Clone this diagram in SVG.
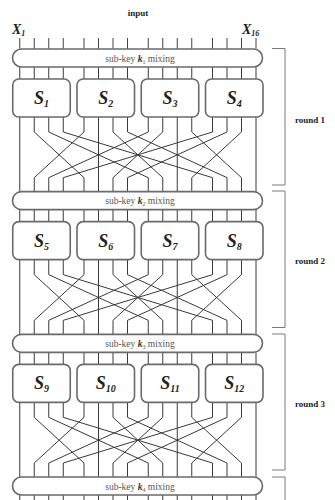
<svg xmlns="http://www.w3.org/2000/svg" xmlns:xlink="http://www.w3.org/1999/xlink" width="335" height="500" viewBox="0 0 335 500">
<style>
.wire{fill:none;stroke:#3a3a3a;stroke-width:1}
.box{fill:#fff;stroke:#6a6a6a;stroke-width:1.6}
.br{fill:none;stroke:#7a7a7a;stroke-width:1}
.lbl{font-family:"Liberation Serif",serif;font-size:9px;font-weight:bold;fill:#222}
.sk{font-family:"Liberation Serif",serif;font-size:9.5px;fill:#555;text-anchor:middle}
.sl{font-family:"Liberation Serif",serif;font-size:18px;font-weight:bold;font-style:italic;fill:#222;text-anchor:middle}
.xl{font-family:"Liberation Serif",serif;font-size:14px;font-weight:bold;font-style:italic;fill:#222}
</style>
<defs>
<path id="ticks" class="wire" d="M19.75 0v12M34.25 0v12M48.75 0v12M63.25 0v12M84 0v12M98.5 0v12M113 0v12M127.5 0v12M148.25 0v12M162.75 0v12M177.25 0v12M191.75 0v12M212.5 0v12M227 0v12M241.5 0v12M256 0v12"/>
<g id="perm" class="wire">
<path d="M19.75 0V74.67M98.5 0V74.67M177.25 0V74.67M256 0V74.67"/>
<path d="M34.25 0V15L84 60.67V74.67"/>
<path d="M48.75 0V15L148.25 60.67V74.67"/>
<path d="M63.25 0V15L212.5 60.67V74.67"/>
<path d="M84 0V15L34.25 60.67V74.67"/>
<path d="M113 0V15L162.75 60.67V74.67"/>
<path d="M127.5 0V15L227 60.67V74.67"/>
<path d="M148.25 0V15L48.75 60.67V74.67"/>
<path d="M162.75 0V15L113 60.67V74.67"/>
<path d="M191.75 0V15L241.5 60.67V74.67"/>
<path d="M212.5 0V15L63.25 60.67V74.67"/>
<path d="M227 0V15L127.5 60.67V74.67"/>
<path d="M241.5 0V15L191.75 60.67V74.67"/>
</g>
</defs>
<rect width="335" height="500" fill="#fff"/>
<g id="connectors">
<use xlink:href="#ticks" transform="translate(0,38) scale(1,0.9)"/>
<use xlink:href="#ticks" transform="translate(0,67)"/>
<use xlink:href="#ticks" transform="translate(0,209.67)"/>
<use xlink:href="#ticks" transform="translate(0,352.33)"/>
<use xlink:href="#ticks" transform="translate(0,495)"/>
<use xlink:href="#perm" transform="translate(0,117)"/>
<use xlink:href="#perm" transform="translate(0,259.67)"/>
<use xlink:href="#perm" transform="translate(0,402.33)"/>
</g>
<g id="labels">
<text class="lbl" x="138" y="16" text-anchor="middle">input</text>
<text class="xl" x="12" y="34">X<tspan font-size="8" dy="2">1</tspan></text>
<text class="xl" x="242" y="34">X<tspan font-size="8" dy="2">16</tspan></text>
</g>
<g id="subkey1"><rect class="box" x="12.5" y="49" width="250" height="18" rx="9"/><text class="sk" x="140" y="61.5">sub-key <tspan font-weight="bold" font-style="italic" fill="#333">k</tspan><tspan font-size="6" dy="2">1</tspan><tspan dy="-2"> mixing</tspan></text></g>
<g id="subkey2"><rect class="box" x="12.5" y="191.67" width="250" height="18" rx="9"/><text class="sk" x="140" y="204.2">sub-key <tspan font-weight="bold" font-style="italic" fill="#333">k</tspan><tspan font-size="6" dy="2">2</tspan><tspan dy="-2"> mixing</tspan></text></g>
<g id="subkey3"><rect class="box" x="12.5" y="334.33" width="250" height="18" rx="9"/><text class="sk" x="140" y="346.8">sub-key <tspan font-weight="bold" font-style="italic" fill="#333">k</tspan><tspan font-size="6" dy="2">3</tspan><tspan dy="-2"> mixing</tspan></text></g>
<g id="subkey4"><rect class="box" x="12.5" y="477" width="250" height="18" rx="9"/><text class="sk" x="140" y="489.5">sub-key <tspan font-weight="bold" font-style="italic" fill="#333">k</tspan><tspan font-size="6" dy="2">4</tspan><tspan dy="-2"> mixing</tspan></text></g>
<g id="S1"><rect class="box" x="12.75" y="79" width="57.5" height="38" rx="6"/><text class="sl" x="41.5" y="104">S<tspan font-size="10" dy="3">1</tspan></text></g>
<g id="S2"><rect class="box" x="77" y="79" width="57.5" height="38" rx="6"/><text class="sl" x="105.75" y="104">S<tspan font-size="10" dy="3">2</tspan></text></g>
<g id="S3"><rect class="box" x="141.25" y="79" width="57.5" height="38" rx="6"/><text class="sl" x="170" y="104">S<tspan font-size="10" dy="3">3</tspan></text></g>
<g id="S4"><rect class="box" x="205.5" y="79" width="57.5" height="38" rx="6"/><text class="sl" x="234.25" y="104">S<tspan font-size="10" dy="3">4</tspan></text></g>
<g id="S5"><rect class="box" x="12.75" y="221.67" width="57.5" height="38" rx="6"/><text class="sl" x="41.5" y="246.7">S<tspan font-size="10" dy="3">5</tspan></text></g>
<g id="S6"><rect class="box" x="77" y="221.67" width="57.5" height="38" rx="6"/><text class="sl" x="105.75" y="246.7">S<tspan font-size="10" dy="3">6</tspan></text></g>
<g id="S7"><rect class="box" x="141.25" y="221.67" width="57.5" height="38" rx="6"/><text class="sl" x="170" y="246.7">S<tspan font-size="10" dy="3">7</tspan></text></g>
<g id="S8"><rect class="box" x="205.5" y="221.67" width="57.5" height="38" rx="6"/><text class="sl" x="234.25" y="246.7">S<tspan font-size="10" dy="3">8</tspan></text></g>
<g id="S9"><rect class="box" x="12.75" y="364.33" width="57.5" height="38" rx="6"/><text class="sl" x="41.5" y="389.3">S<tspan font-size="10" dy="3">9</tspan></text></g>
<g id="S10"><rect class="box" x="77" y="364.33" width="57.5" height="38" rx="6"/><text class="sl" x="105.75" y="389.3">S<tspan font-size="10" dy="3">10</tspan></text></g>
<g id="S11"><rect class="box" x="141.25" y="364.33" width="57.5" height="38" rx="6"/><text class="sl" x="170" y="389.3">S<tspan font-size="10" dy="3">11</tspan></text></g>
<g id="S12"><rect class="box" x="205.5" y="364.33" width="57.5" height="38" rx="6"/><text class="sl" x="234.25" y="389.3">S<tspan font-size="10" dy="3">12</tspan></text></g>
<g id="round1"><path class="br" d="M272 48.5H285V185H272"/><text class="lbl" x="295" y="123">round 1</text></g>
<g id="round2"><path class="br" d="M272 191H285V327.5H272"/><text class="lbl" x="295" y="264">round 2</text></g>
<g id="round3"><path class="br" d="M272 334H285V470H272"/><text class="lbl" x="295" y="407">round 3</text></g>
<g id="round4"><path class="br" d="M272 477H285V500"/></g>
</svg>
